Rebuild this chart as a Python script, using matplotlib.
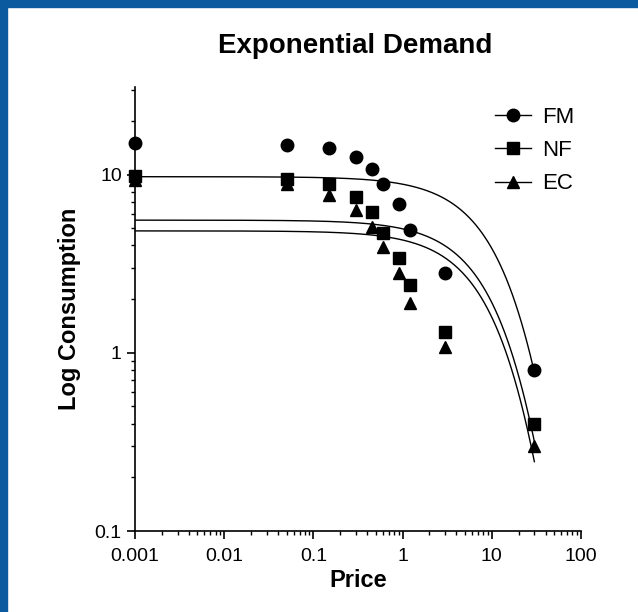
import numpy as np
import matplotlib
matplotlib.use("Agg")
import matplotlib.pyplot as plt
from matplotlib.patches import Rectangle
from matplotlib.ticker import FixedLocator, LogLocator, NullFormatter, FuncFormatter

plt.rcParams['font.family'] = ['Liberation Sans', 'DejaVu Sans']

# observed consumption (0.001 stands in for price 0)
prices = [0.001, 0.05, 0.15, 0.3, 0.45, 0.6, 0.9, 1.2, 3, 30]
fm = [15.0, 14.7, 14.1, 12.6, 10.8, 8.9, 6.8, 4.9, 2.8, 0.80]
nf = [9.8, 9.45, 8.85, 7.45, 6.2, 4.7, 3.4, 2.4, 1.31, 0.40]
ec = [9.3, 8.86, 7.68, 6.32, 5.09, 3.90, 2.79, 1.91, 1.08, 0.30]

# fitted exponential demand parameters: log Q = log Q0 + k (exp(-alpha Q0 C) - 1)
groups = ["FM", "NF", "EC"]
q0 = [9.73, 5.55, 4.83]
alpha = [0.00102, 0.00207, 0.0025]
k_fit = 4.26

markers = ["o", "s", "^"]
series = [fm, nf, ec]


def demand(c, q, a, k):
    return 10 ** (np.log10(q) + k * (np.exp(-a * q * c) - 1))


fig = plt.figure(figsize=(6.38, 6.12), dpi=100)
blue = "#0b5aa0"
fig.patches.append(Rectangle((0, 0), 7 / 638, 1, transform=fig.transFigure, color=blue, zorder=0))
fig.patches.append(Rectangle((0, 1 - 7 / 612), 1, 7 / 612, transform=fig.transFigure, color=blue, zorder=0))

ax = fig.add_axes([135 / 638, 1 - 531 / 612, (581 - 135) / 638, (531 - 87) / 612])
ax.set_xscale("log")
ax.set_yscale("log")

cgrid = np.logspace(-3, np.log10(30), 400)
for i, name in enumerate(groups):
    ax.plot(cgrid, demand(cgrid, q0[i], alpha[i], k_fit), color="black", lw=1.0)
    ax.plot(prices, series[i], linestyle="none", marker=markers[i], color="black",
            ms=9 if markers[i] != "^" else 8.5, clip_on=False, label=name)

ax.set_xlim(0.001, 100)
ax.set_ylim(0.1, 31)

for s in ["top", "right"]:
    ax.spines[s].set_visible(False)
for s in ["left", "bottom"]:
    ax.spines[s].set_linewidth(1.2)

ax.xaxis.set_major_locator(FixedLocator([0.001, 0.01, 0.1, 1, 10, 100]))
ax.yaxis.set_major_locator(FixedLocator([0.1, 1, 10]))
ax.xaxis.set_minor_locator(LogLocator(base=10, subs=np.arange(2, 10)))
ax.yaxis.set_minor_locator(LogLocator(base=10, subs=np.arange(2, 10)))
fmt = FuncFormatter(lambda v, p: "%g" % v)
ax.xaxis.set_major_formatter(fmt)
ax.yaxis.set_major_formatter(fmt)
ax.xaxis.set_minor_formatter(NullFormatter())
ax.yaxis.set_minor_formatter(NullFormatter())
ax.tick_params(which="major", length=6, width=1.2, labelsize=14, direction="out")
ax.tick_params(axis="x", which="major", pad=6)
ax.tick_params(which="minor", length=3, width=1.0, direction="out")

ax.set_xlabel("Price", fontsize=17, fontweight="bold", labelpad=3)
ax.set_ylabel("Log Consumption", fontsize=17, fontweight="bold", labelpad=10)
fig.text(218 / 638, 1 - 53 / 612, "Exponential Demand", fontsize=20, fontweight="bold",
         ha="left", va="baseline")

leg = ax.legend(loc="upper right", bbox_to_anchor=(1.03, 1.0), frameon=False, fontsize=16,
                handlelength=1.6, handletextpad=0.5, labelspacing=0.55)
for h in leg.legend_handles:
    h.set_linestyle("-")
    h.set_linewidth(1.0)

fig.savefig("out.png", dpi=100)
